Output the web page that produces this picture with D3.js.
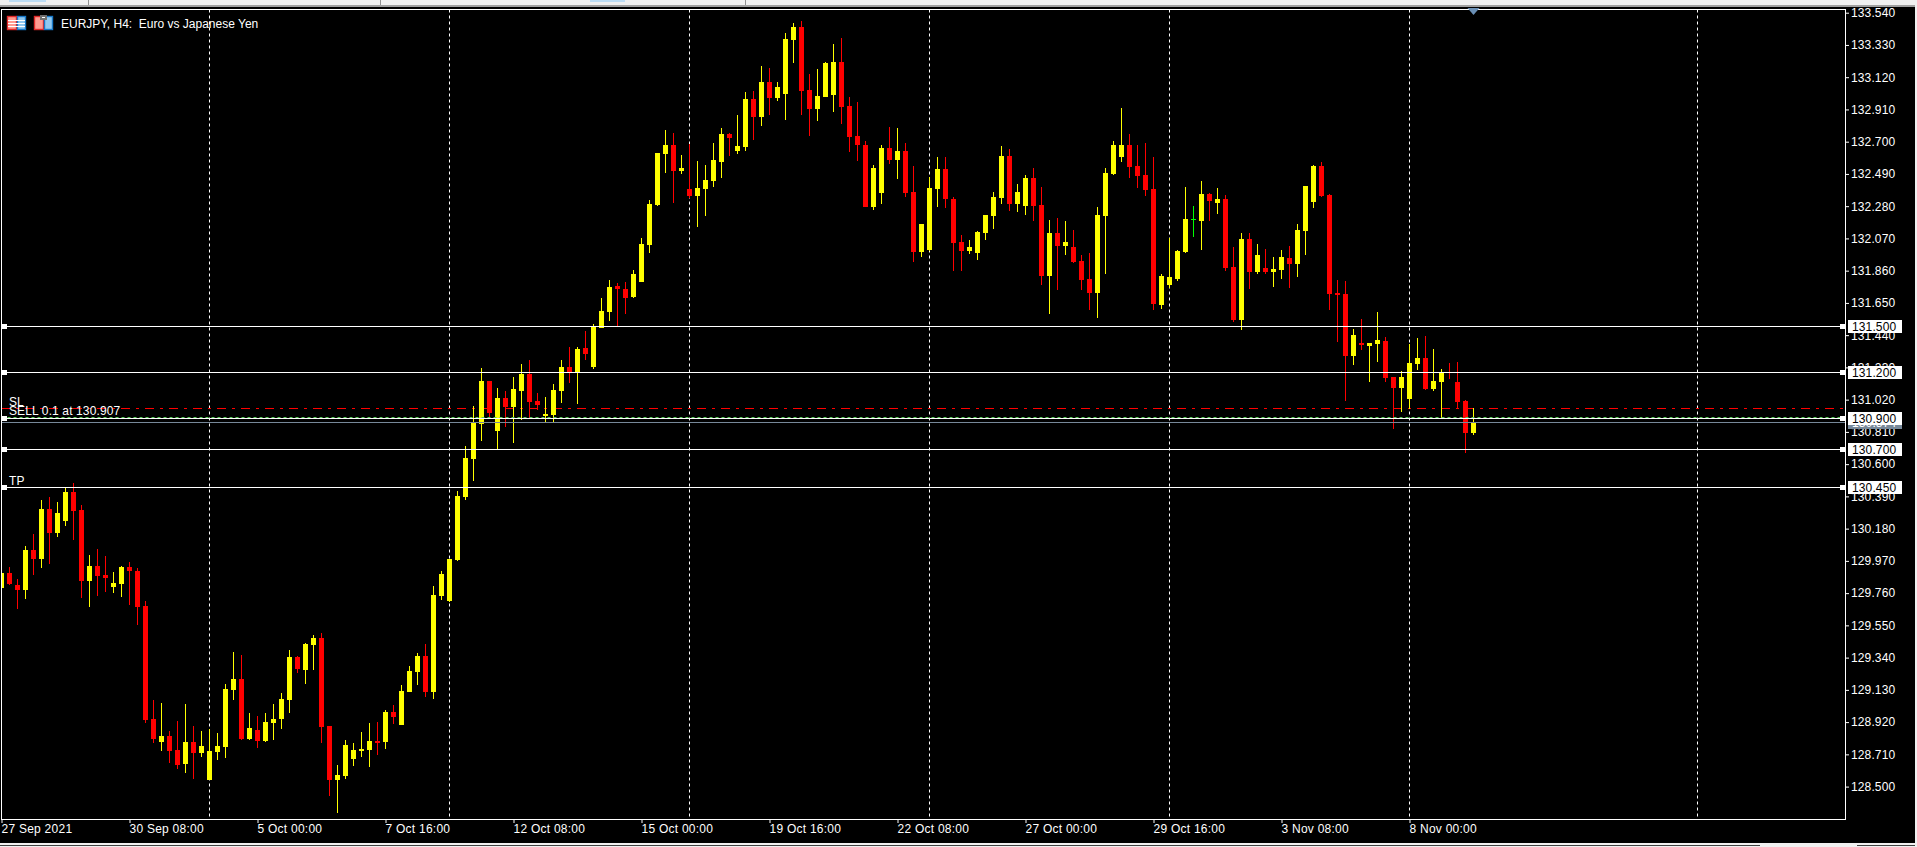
<!DOCTYPE html>
<html>
<head>
<meta charset="utf-8">
<script src="https://cdn.jsdelivr.net/npm/d3@7/dist/d3.min.js"></script>
<style>
html,body{margin:0;padding:0;background:#000;overflow:hidden}
svg{display:block}
text{font-family:"Liberation Sans",sans-serif;font-size:12px;letter-spacing:.12px;white-space:pre}
</style>
</head>
<body>
<svg id="c" width="1917" height="847"></svg>
<script>
const opens=[129.793,129.890,129.812,129.780,130.040,129.982,130.308,130.151,130.230,130.419,
130.301,129.838,129.936,129.877,129.799,129.819,129.930,129.904,129.675,128.938,
128.788,128.827,128.736,128.645,128.788,128.716,128.540,128.723,128.755,129.127,
129.199,128.808,128.866,128.795,128.912,128.938,129.062,129.343,129.258,129.421,
129.466,128.892,128.540,128.566,128.677,128.729,128.736,128.795,128.788,128.984,
128.899,129.114,129.245,129.349,129.114,129.740,129.708,129.975,130.387,130.635,
130.863,131.143,130.817,131.033,130.974,131.078,131.189,131.013,130.915,130.922,
131.078,131.235,131.202,131.359,131.235,131.489,131.593,131.763,131.743,131.691,
131.789,132.030,132.291,132.624,132.683,132.513,132.396,132.350,132.396,132.448,
132.572,132.754,132.644,132.670,132.983,132.865,133.094,132.989,133.015,133.368,
133.452,133.041,132.917,132.996,133.009,133.224,132.937,132.741,132.683,132.278,
132.370,132.663,132.585,132.644,132.376,131.985,131.998,132.396,132.526,132.330,
132.050,131.991,131.978,132.109,132.219,132.337,132.611,132.298,132.285,132.467,
132.291,131.828,132.109,132.024,132.017,131.926,131.809,131.717,132.219,132.494,
132.604,132.683,132.546,132.487,132.396,131.639,131.769,131.809,131.985,132.198,
132.187,132.363,132.304,132.330,131.887,131.541,132.069,131.854,131.880,131.854,
131.867,131.945,131.906,132.122,132.311,132.546,132.357,131.717,131.711,131.306,
131.391,131.372,131.385,131.404,131.169,131.098,131.026,131.254,131.293,131.091,
131.137,131.200,131.137,131.013,130.804];
const highs=[129.890,129.930,129.851,130.067,130.145,130.367,130.386,130.354,130.445,130.478,
130.334,130.008,130.047,130.001,129.897,129.936,129.962,129.923,129.708,129.062,
129.042,128.860,128.925,129.036,128.892,128.860,128.873,128.847,129.166,129.375,
129.356,128.977,128.958,128.977,129.036,129.108,129.388,129.349,129.434,129.486,
129.499,128.892,128.638,128.801,128.782,128.853,128.912,128.919,128.997,129.029,
129.160,129.284,129.369,129.427,129.806,129.904,129.982,130.425,130.720,130.980,
131.228,131.143,131.098,131.078,131.170,131.254,131.281,131.065,131.039,131.124,
131.281,131.365,131.365,131.470,131.515,131.685,131.802,131.783,131.789,131.867,
132.076,132.324,132.630,132.780,132.761,132.617,132.689,132.578,132.552,132.696,
132.793,132.761,132.878,133.028,133.035,133.198,133.185,133.094,133.413,133.478,
133.492,133.146,133.178,133.224,133.342,133.381,132.996,132.963,132.709,132.552,
132.683,132.800,132.793,132.696,132.546,132.167,132.474,132.604,132.604,132.343,
132.096,132.063,132.122,132.226,132.376,132.676,132.657,132.428,132.487,132.533,
132.409,132.193,132.206,132.187,132.128,131.965,131.978,132.278,132.533,132.709,
132.924,132.754,132.683,132.696,132.604,131.841,132.076,131.998,132.409,132.285,
132.448,132.370,132.402,132.357,132.017,132.109,132.109,132.037,132.004,131.952,
131.998,132.024,132.167,132.415,132.552,132.572,132.363,131.802,131.796,131.482,
131.548,131.391,131.593,131.430,131.169,131.208,131.385,131.424,131.437,131.352,
131.222,131.261,131.267,131.019,130.967];
const lows=[129.793,129.812,129.656,129.721,129.877,129.923,129.949,130.125,130.197,130.106,
129.727,129.669,129.740,129.767,129.760,129.734,129.682,129.551,128.912,128.782,
128.729,128.651,128.612,128.586,128.547,128.690,128.540,128.671,128.684,129.062,
128.801,128.801,128.749,128.788,128.801,128.873,128.977,129.238,129.166,129.258,
128.782,128.436,128.325,128.547,128.631,128.690,128.625,128.703,128.742,128.905,
128.899,129.114,129.160,129.082,129.069,129.714,129.701,129.969,130.367,130.491,
130.752,130.900,130.700,130.843,130.739,130.889,130.900,130.954,130.870,130.876,
131.000,131.131,130.994,131.280,131.222,131.489,131.535,131.502,131.580,131.685,
131.789,131.978,132.285,132.500,132.304,132.493,132.337,132.148,132.219,132.409,
132.467,132.611,132.624,132.644,132.715,132.807,132.878,132.970,132.846,133.218,
132.878,132.741,132.839,132.996,132.898,132.820,132.637,132.578,132.278,132.259,
132.298,132.559,132.461,132.343,131.919,131.952,131.991,132.278,132.272,131.861,
131.861,131.972,131.933,132.063,132.135,132.298,132.252,132.246,132.226,132.187,
131.769,131.580,131.737,131.965,131.913,131.737,131.606,131.554,131.841,132.487,
132.572,132.467,132.402,132.350,131.606,131.613,131.750,131.796,131.978,132.083,
131.998,132.187,132.233,131.861,131.528,131.476,131.743,131.841,131.841,131.756,
131.809,131.750,131.822,131.965,132.272,132.344,131.606,131.398,131.013,131.248,
131.345,131.137,131.267,131.137,130.830,130.941,130.961,131.215,131.085,131.078,
130.902,131.156,130.967,130.674,130.791];
const closes=[129.890,129.819,129.780,130.040,129.982,130.308,130.151,130.282,130.419,130.295,
129.838,129.936,129.871,129.858,129.825,129.930,129.904,129.669,128.932,128.808,
128.827,128.729,128.638,128.788,128.716,128.762,128.729,128.762,129.134,129.199,
128.808,128.879,128.795,128.919,128.938,129.069,129.343,129.264,129.427,129.466,
128.886,128.540,128.573,128.768,128.736,128.742,128.795,128.782,128.984,128.951,
129.121,129.251,129.349,129.114,129.747,129.884,129.982,130.393,130.641,130.870,
131.143,130.935,131.033,130.974,131.091,131.189,131.007,130.987,130.928,131.085,
131.235,131.202,131.352,131.319,131.496,131.600,131.757,131.743,131.685,131.841,
132.037,132.298,132.630,132.683,132.513,132.533,132.350,132.402,132.454,132.585,
132.754,132.728,132.676,132.983,132.865,133.094,132.989,133.061,133.374,133.452,
133.035,132.917,133.002,133.218,133.224,132.931,132.735,132.683,132.278,132.533,
132.663,132.585,132.644,132.370,131.985,132.167,132.402,132.526,132.330,132.043,
131.991,132.017,132.115,132.226,132.343,132.611,132.298,132.376,132.467,132.285,
131.828,132.109,132.024,132.050,131.919,131.802,131.717,132.226,132.500,132.683,
132.683,132.539,132.480,132.389,131.645,131.828,131.822,131.991,132.200,132.198,
132.363,132.317,132.330,131.880,131.541,132.069,131.854,131.965,131.854,131.874,
131.952,131.906,132.128,132.415,132.546,132.350,131.711,131.704,131.306,131.443,
131.378,131.391,131.411,131.163,131.098,131.169,131.261,131.293,131.091,131.143,
131.195,131.199,131.006,130.804,130.876];
const priceTicks=[133.54,133.33,133.12,132.91,132.70,132.49,132.28,132.07,131.86,131.65,131.44,131.23,131.02,130.81,130.60,130.39,130.18,129.97,129.76,129.55,129.34,129.13,128.92,128.71,128.50];
const timeTickBars=[0,16,32,48,64,80,96,112,128,144,160,176];
const timeLabels=["27 Sep 2021","30 Sep 08:00","5 Oct 00:00","7 Oct 16:00","12 Oct 08:00","15 Oct 00:00","19 Oct 16:00","22 Oct 08:00","27 Oct 00:00","29 Oct 16:00","3 Nov 08:00","8 Nov 00:00"];
const gridBars=[26,56,86,116,146,176,212];
const levels=[131.5,131.2,130.9,130.7,130.45];
const slLevel=130.965, tradeLevel=130.907, bidLevel=130.874;
const titleText="EURJPY, H4:  Euro vs Japanese Yen";
const tradeText="SELL 0.1 at 130.907";

const svg=d3.select("#c");
const L=1.5,R=1845.5,T=9.5,B=819.5;
const y=d3.scaleLinear().domain([128.5,133.54]).range([786.2,13.6]);
const yAxisScale=d3.scaleLinear().domain([128.5,133.54]).range([786.6,12.7]);
const x=d3.scaleLinear().domain([0,212]).range([1.5,1697.5]);
const yp=p=>Math.round(y(p));
const fmt=d3.format(".3f");

// window chrome
svg.append("rect").attr("x",0).attr("y",0).attr("width",1917).attr("height",5).attr("fill","#f0f0f0");
svg.append("rect").attr("x",0).attr("y",5).attr("width",1917).attr("height",2).attr("fill","#a0a0a0");
svg.append("rect").attr("x",9).attr("y",0).attr("width",37).attr("height",2).attr("fill","#bcdcf4");
svg.append("rect").attr("x",590).attr("y",0).attr("width",35).attr("height",2).attr("fill","#bcdcf4");
[88,380,745].forEach(v=>svg.append("rect").attr("x",v).attr("y",0).attr("width",1).attr("height",5).attr("fill","#909090"));
svg.append("rect").attr("x",1915).attr("y",5).attr("width",2).attr("height",842).attr("fill","#f0f0f0");
svg.append("rect").attr("x",0).attr("y",843).attr("width",1917).attr("height",4).attr("fill","#f0f0f0");
svg.append("rect").attr("x",0).attr("y",845).attr("width",1760).attr("height",1).attr("fill","#404040");
svg.append("rect").attr("x",1857).attr("y",845).attr("width",58).attr("height",1).attr("fill","#404040");

svg.append("defs").append("clipPath").attr("id","pl").append("rect").attr("x",2).attr("y",10).attr("width",1843).attr("height",809);
const plot=svg.append("g").attr("clip-path","url(#pl)");

// grid
plot.selectAll("line.g").data(gridBars).join("line")
 .attr("x1",d=>x(d)).attr("x2",d=>x(d)).attr("y1",T).attr("y2",B)
 .attr("stroke","#fff").attr("stroke-dasharray","3 3");

// SL line behind candles
plot.append("line").attr("x1",1).attr("x2",1843).attr("y1",yp(slLevel)+.5).attr("y2",yp(slLevel)+.5)
 .attr("stroke","#ff0000").attr("stroke-dasharray","9 6 3 6");

// candles
const color=i=>closes[i]>opens[i]?"#ffff00":closes[i]<opens[i]?"#ff0000":"#00ff00";
const idx=d3.range(opens.length);
plot.selectAll("rect.w").data(idx).join("rect")
 .attr("x",i=>x(i)-.5).attr("width",1)
 .attr("y",i=>yp(highs[i])).attr("height",i=>Math.max(1,yp(lows[i])-yp(highs[i])))
 .attr("fill",color);
plot.selectAll("rect.b").data(idx).join("rect")
 .attr("x",i=>x(i)-2.5).attr("width",5)
 .attr("y",i=>yp(Math.max(opens[i],closes[i])))
 .attr("height",i=>Math.max(1,yp(Math.min(opens[i],closes[i]))-yp(Math.max(opens[i],closes[i]))))
 .attr("fill",color);

// horizontal levels
plot.append("line").attr("x1",L).attr("x2",R).attr("y1",yp(bidLevel)+.5).attr("y2",yp(bidLevel)+.5).attr("stroke","#778899");
svg.selectAll("line.l").data(levels).join("line")
 .attr("x1",L).attr("x2",R).attr("y1",d=>yp(d)+.5).attr("y2",d=>yp(d)+.5).attr("stroke","#fff");
plot.append("line").attr("x1",L).attr("x2",R).attr("y1",yp(tradeLevel)+.5).attr("y2",yp(tradeLevel)+.5)
 .attr("stroke","#55cc55").attr("stroke-dasharray","3 3");

// frame
svg.append("rect").attr("x",L).attr("y",T).attr("width",R-L).attr("height",B-T).attr("fill","none").attr("stroke","#fff");

// axes
const ay=svg.append("g").attr("transform",`translate(${R-.5},0)`)
 .call(d3.axisRight(yAxisScale).tickValues(priceTicks).tickFormat(fmt).tickSize(4).tickPadding(2));
ay.select(".domain").remove();
ay.selectAll("line").attr("stroke","#fff");
ay.selectAll("text").attr("fill","#fff").style("font-family",'"Liberation Sans",sans-serif').style("font-size","12px");
const ax=svg.append("g").attr("transform",`translate(0,${B-.5})`)
 .call(d3.axisBottom(x).tickValues(timeTickBars).tickFormat((d,i)=>timeLabels[i]).tickSize(4).tickPadding(1));
ax.select(".domain").remove();
ax.selectAll("line").attr("stroke","#fff");
ax.selectAll("text").attr("fill","#fff").attr("text-anchor","start").attr("x",-.5).style("font-family",'"Liberation Sans",sans-serif').style("font-size","12px").style("letter-spacing",".25px");

// bid label and level handles/labels
svg.append("rect").attr("x",1848).attr("y",yp(bidLevel)-6).attr("width",54).attr("height",13).attr("fill","#778899");
svg.append("text").attr("x",1852).attr("y",yp(bidLevel)+4.5).attr("fill","#fff").text(fmt(bidLevel));
levels.forEach(v=>{
 const c=yp(v);
 svg.append("rect").attr("x",2).attr("y",c-2).attr("width",5).attr("height",5).attr("fill","#fff");
 svg.append("rect").attr("x",1840).attr("y",c-2).attr("width",5).attr("height",5).attr("fill","#fff");
 svg.append("rect").attr("x",1848).attr("y",c-6).attr("width",54).attr("height",13).attr("fill","#fff");
 svg.append("text").attr("x",1852).attr("y",c+4.5).attr("fill","#000").text(fmt(v));
});

// texts on the plot
const t=(s,xx,yy)=>svg.append("text").attr("x",xx).attr("y",yy).attr("fill","#fff").text(s);
t(titleText,61,28).style("letter-spacing","0px");
t("SL",9,406);
t(tradeText,9,415);
t("TP",9,485);

// title icons
function icon(ix,kind){
 const g=svg.append("g").attr("transform",`translate(${ix},16)`);
 g.append("rect").attr("x",.5).attr("y",.5).attr("width",9).attr("height",13).attr("fill","#ff9a90").attr("stroke","#e02828").attr("stroke-width",1.4);
 g.append("rect").attr("x",10.5).attr("y",.5).attr("width",8).attr("height",13).attr("fill","#90c8f0").attr("stroke","#1878c8").attr("stroke-width",1.4);
 if(kind==="table"){
  [4,7,10].forEach(v=>g.append("rect").attr("x",1).attr("y",v).attr("width",17).attr("height",1).attr("fill","#fff"));
 } else {
  g.append("rect").attr("x",6).attr("y",-1).attr("width",7).attr("height",5).attr("fill","#707070");
  g.append("rect").attr("x",8).attr("y",1).attr("width",3).attr("height",1).attr("fill","#fff");
 }
}
icon(7,"table");icon(34,"disk");

// shift marker
svg.append("path").attr("d",d3.line()([[x(184)-6,8],[x(184)+6,8],[x(184),15]])+"Z").attr("fill","#6a8fb5");
</script>
</body>
</html>
